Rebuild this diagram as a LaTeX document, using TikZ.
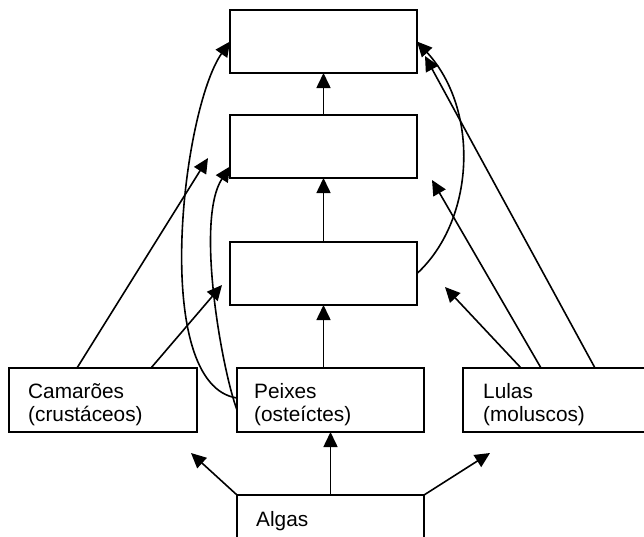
\documentclass[tikz,border=0pt]{standalone}
\usepackage{fontspec}
\setmainfont{Liberation Sans}
\usetikzlibrary{arrows.meta,calc}
\begin{document}
\begin{tikzpicture}[x=1pt,y=-1pt,
  box/.style={draw, line width=1.8pt, rectangle, inner sep=0pt, outer sep=0pt},
  lbl/.style={anchor=base west, inner sep=0pt, text width=170pt, align=left, font=\fontsize{20.8}{23.5}\selectfont},
  arr/.style={line width=1.6pt, -{Triangle[length=15pt,width=14pt]}}]
\useasboundingbox (0,0) rectangle (644,536);
\clip (0,0) rectangle (644,536);
% boxes
\node[box, minimum width=187pt, minimum height=63pt] (top) at (323.5,41.5) {};
\node[box, minimum width=187pt, minimum height=63pt] (mid) at (323.5,146.5) {};
\node[box, minimum width=187pt, minimum height=63pt] (low) at (323.5,273.5) {};
\node[box, minimum width=188pt, minimum height=64pt] (cam) at (103,400) {};
\node[box, minimum width=187pt, minimum height=64pt] (pei) at (330.5,400) {};
\node[box, minimum width=189pt, minimum height=64pt] (lul) at (557.5,400) {};
\node[box, minimum width=187pt, minimum height=64pt] (alg) at (330.5,527) {};
% labels
\node[lbl] (camT) at ($(cam.north west)+(19,30)$) {Camarões\\(crustáceos)};
\node[lbl] (peiT) at ($(pei.north west)+(17,30)$) {Peixes\\(osteíctes)};
\node[lbl] (lulT) at ($(lul.north west)+(20,30)$) {Lulas\\(moluscos)};
\node[lbl] (algT) at ($(alg.north west)+(19,31)$) {Algas};
% free arrow tips
\coordinate (tA) at (191,453);
\coordinate (tB) at (490,453);
\coordinate (tC) at (208,158);
\coordinate (tD) at (222,285);
\coordinate (tE) at (445,287);
\coordinate (tF) at (432,180);
\coordinate (tG) at (425,56);
% connectors
\draw[arr] (low.north) -- (mid.south);
\draw[arr] (mid.north) -- (top.south);
\draw[arr] (low.south |- pei.north) -- (low.south);
\draw[arr] (alg.north) -- (pei.south);
\draw[arr] (alg.north west) -- (tA);
\draw[arr] (alg.north east) -- (tB);
\draw[arr] ($(cam.north west)+(68,0)$) -- (tC);
\draw[arr] ($(cam.north west)+(142,0)$) -- (tD);
\draw[arr] ($(lul.north west)+(58,0)$) -- (tE);
\draw[arr] ($(lul.north west)+(78,0)$) -- (tF);
\draw[arr] ($(lul.north west)+(132,0)$) -- (tG);
\draw[arr] (low.east) .. controls (475,220) and (480,110) .. (top.east);
\draw[arr] ($(pei.west)+(0,-2)$) .. controls (150,385) and (182,110) .. (top.west);
\draw[arr] ($(pei.west)+(0,10)$) .. controls (222,370) and (195,220) .. ($(mid.west)+(0,20)$);
\end{tikzpicture}
\end{document}
